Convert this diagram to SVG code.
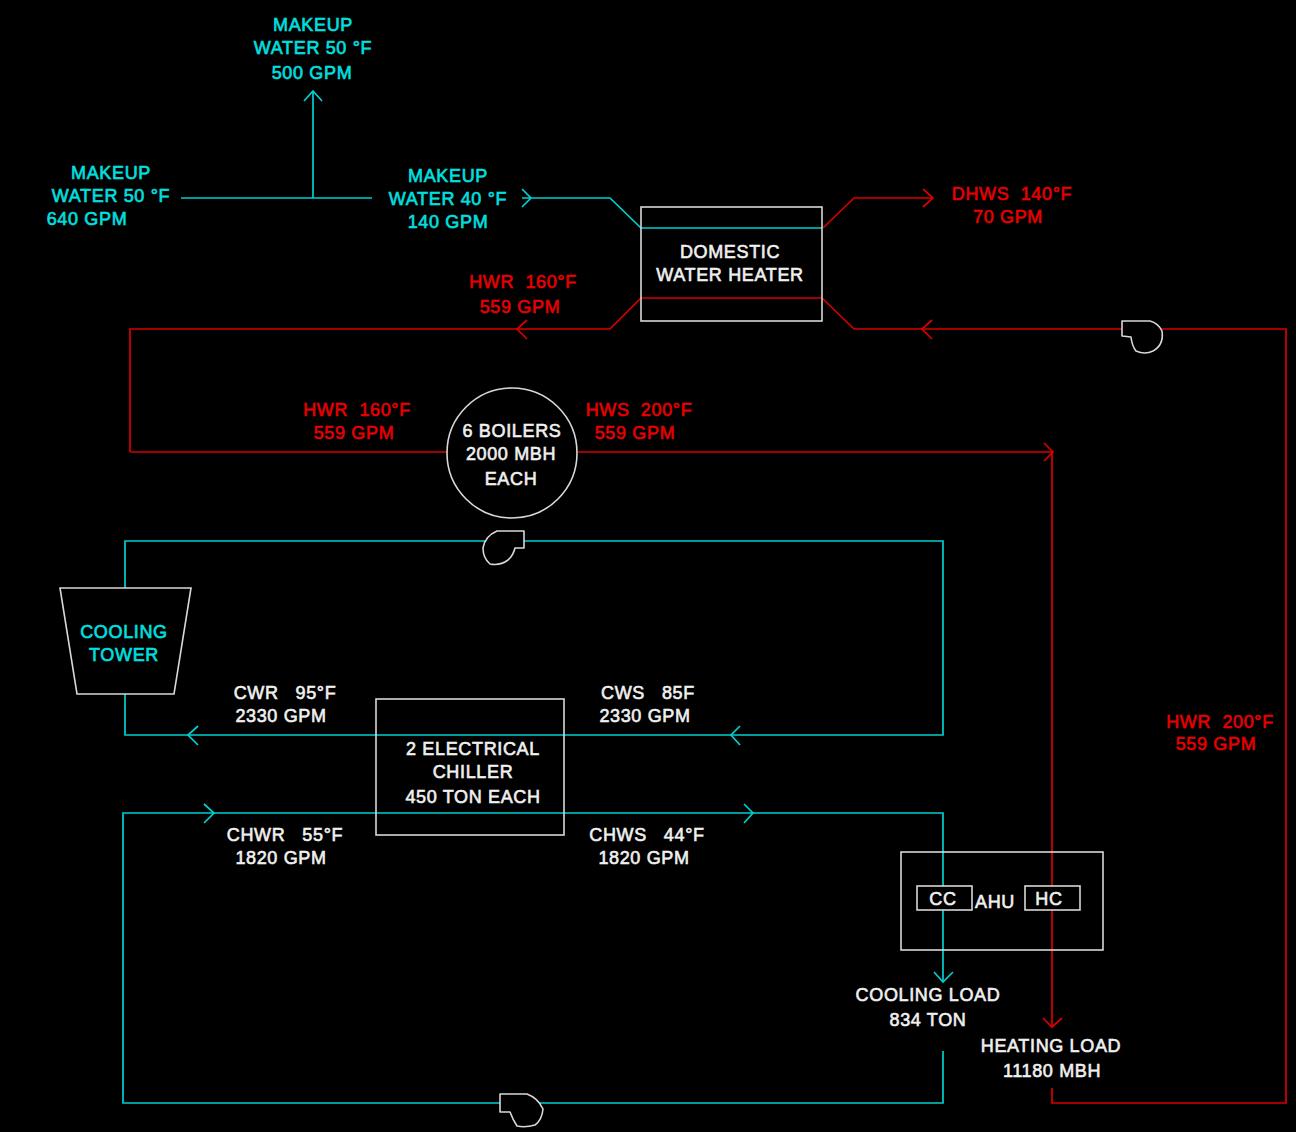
<svg xmlns="http://www.w3.org/2000/svg" width="1296" height="1132" viewBox="0 0 1296 1132">
<style>
text{font-family:"Liberation Sans",Arial,sans-serif;font-size:18px;text-anchor:middle;stroke-width:.6px;letter-spacing:.65px;white-space:pre}
.w{fill:#f0f0f0;stroke:#f0f0f0}.c{fill:#00e0e0;stroke:#00e0e0}.r{fill:#e80000;stroke:#e80000}
.bx{fill:none;stroke:#d8d8d8;stroke-width:1.6}
.bf{fill:#000;stroke:#d8d8d8;stroke-width:1.6}
.pump{fill:#000;stroke:#d8d8d8;stroke-width:1.6;stroke-linejoin:round}
.cl,.rl{fill:none;stroke-width:1.7}.cl{stroke:#00d0d0}.rl{stroke:#d80000}
</style>
<rect width="1296" height="1132" fill="#000"/>
<g id="connectors">
<g class="cl">
<path d="M313 198V91M304 101L313 91L322 101"/>
<path d="M181 198H372"/>
<path d="M522 189L531 198L522 207M522 198H610L641 228H822"/>
<path d="M125 588V541H943V735H125V694"/>
<path d="M198 726L188 735L198 745M740 726L731 735L740 745"/>
<path d="M943 982V813H123V1103H943V1051"/>
<path d="M204 804L214 813L204 823M744 804L753 813L744 823"/>
<path d="M934 972L943 982L953 972"/>
</g>
<g class="rl">
<path d="M823 228L854 198H933M923 189L933 198L923 207"/>
<path d="M130 452V329H610L641 298H822L854 329H1286V1103H1052V1088"/>
<path d="M527 320L517 329L527 339M932 320L922 329L932 339"/>
<path d="M130 452H447M578 452H1052V1027M1044 443L1053 452L1044 461M1043 1018L1052 1027L1062 1018"/>
</g>
</g>
<g id="domestic-water-heater"><rect class="bx" x="641" y="207" width="181" height="114"/>
<text class="w" x="730" y="258">DOMESTIC</text><text class="w" x="730" y="281">WATER HEATER</text></g>
<g id="boilers"><circle cx="512" cy="453" r="65" fill="#000" stroke="#d8d8d8" stroke-width="1.6"/>
<text class="w" x="512" y="437">6 BOILERS</text><text class="w" x="511" y="460">2000 MBH</text><text class="w" x="511" y="485">EACH</text></g>
<g id="cooling-tower"><path d="M60 588H191L174 694H77Z" fill="#000" stroke="#d8d8d8" stroke-width="1.6"/>
<text class="c" x="124" y="638">COOLING</text><text class="c" x="124" y="661">TOWER</text></g>
<g id="chiller"><rect class="bx" x="376" y="699" width="188" height="136"/>
<text class="w" x="473" y="755">2 ELECTRICAL</text><text class="w" x="473" y="778">CHILLER</text><text class="w" x="473" y="803">450 TON EACH</text></g>
<g id="ahu"><rect class="bx" x="901" y="852" width="202" height="98"/>
<rect class="bf" x="917" y="886" width="55" height="24"/><rect class="bf" x="1025" y="886" width="55" height="24"/>
<text class="w" x="943" y="905">CC</text><text class="w" x="995" y="908">AHU</text><text class="w" x="1049" y="905">HC</text></g>
<g id="pump-1"><path class="pump" d="M1122 321H1150Q1158 323 1162 331Q1164 345 1153 351Q1145 355 1136 351Q1132 346 1131 337L1122 336Z"/></g>
<g id="pump-2"><path class="pump" d="M524 531V548H515Q513 556 508 560Q500 566 490 564Q483 558 483 548Q485 536 497 531Z"/></g>
<g id="pump-3"><path class="pump" d="M500 1094H527Q538 1098 543 1109Q542 1120 535 1125Q525 1128 517 1126Q513 1120 510 1112H500Z"/></g>
<g id="labels">
<text class="c" x="313" y="31">MAKEUP</text><text class="c" x="313" y="54">WATER 50 °F</text><text class="c" x="312" y="79">500 GPM</text>
<text class="c" x="111" y="179">MAKEUP</text><text class="c" x="111" y="202">WATER 50 °F</text><text class="c" x="87" y="225">640 GPM</text>
<text class="c" x="448" y="182">MAKEUP</text><text class="c" x="448" y="205">WATER 40 °F</text><text class="c" x="448" y="228">140 GPM</text>
<text class="r" x="1012" y="200">DHWS  140°F</text><text class="r" x="1008" y="223">70 GPM</text>
<text class="r" x="523" y="288">HWR  160°F</text><text class="r" x="520" y="313">559 GPM</text>
<text class="r" x="357" y="416">HWR  160°F</text><text class="r" x="354" y="439">559 GPM</text>
<text class="r" x="639" y="416">HWS  200°F</text><text class="r" x="635" y="439">559 GPM</text>
<text class="r" x="1220" y="728">HWR  200°F</text><text class="r" x="1216" y="750">559 GPM</text>
<text class="w" x="285" y="699">CWR   95°F</text><text class="w" x="281" y="722">2330 GPM</text>
<text class="w" x="648" y="699">CWS   85F</text><text class="w" x="645" y="722">2330 GPM</text>
<text class="w" x="285" y="841">CHWR   55°F</text><text class="w" x="281" y="864">1820 GPM</text>
<text class="w" x="647" y="841">CHWS   44°F</text><text class="w" x="644" y="864">1820 GPM</text>
<text class="w" x="928" y="1001">COOLING LOAD</text><text class="w" x="928" y="1026">834 TON</text>
<text class="w" x="1051" y="1052">HEATING LOAD</text><text class="w" x="1052" y="1077">11180 MBH</text>
</g>
</svg>
